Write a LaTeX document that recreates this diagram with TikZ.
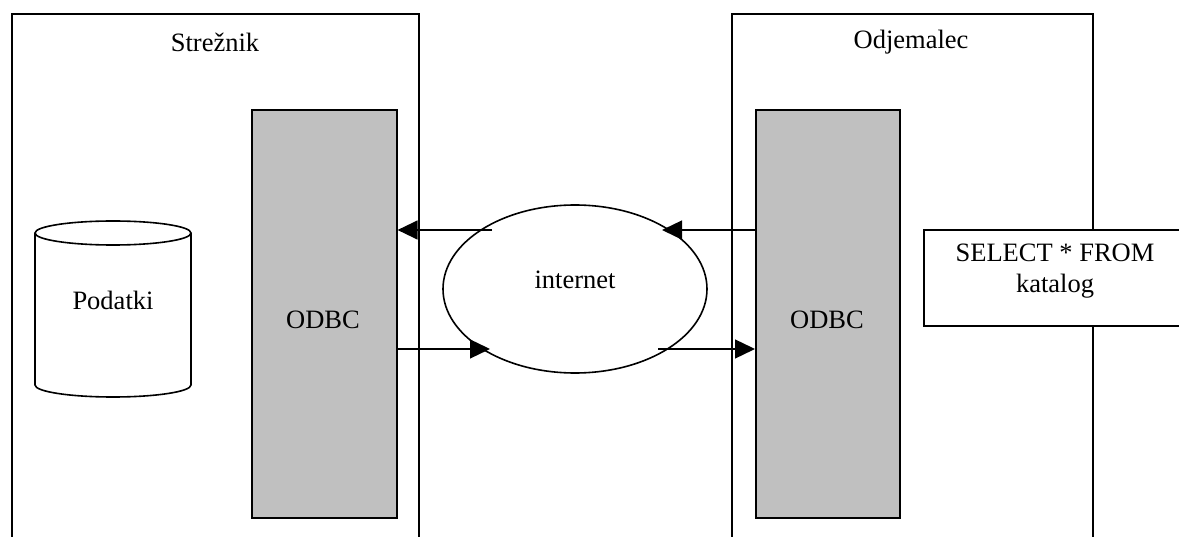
\documentclass[tikz,border=0pt]{standalone}
\usepackage{fontspec}
\setmainfont{Liberation Serif}
\usetikzlibrary{shapes.geometric,arrows.meta}
\definecolor{odbcgray}{HTML}{C0C0C0}
\begin{document}
\begin{tikzpicture}[x=1pt,y=-1pt,
  every node/.style={font=\fontsize{26.5}{31}\selectfont},
  frame/.style={draw, line width=1.6pt, rectangle, anchor=north west, inner sep=0pt},
  odbcbox/.style={frame, fill=odbcgray},
  txt/.style={inner sep=0pt, align=center},
  arr/.style={line width=1.3pt, -{Triangle[length=20pt,width=19pt]}}]
\useasboundingbox (0,0) rectangle (1179,537);
% server and client frames
\node[frame, minimum width=407pt, minimum height=600pt] (server) at (11,13) {};
\node[frame, minimum width=361pt, minimum height=600pt] (client) at (731,13) {};
\node[txt] (serverlbl) at (215,42) {Strežnik};
\node[txt] (clientlbl) at (911,42) {Odjemalec};
% ODBC boxes
\node[odbcbox, minimum width=145pt, minimum height=408pt] (odbcL) at (251,109) {};
\node[odbcbox, minimum width=144pt, minimum height=408pt] (odbcR) at (755,109) {};
\node[txt] (odbcLt) at (323,320) {ODBC};
\node[txt] (odbcRt) at (827,320) {ODBC};
% query box
\node[frame, fill=white, minimum width=265pt, minimum height=96pt] (query) at (923,229) {};
\node[txt] (querytxt) at (1055,271) {SELECT * FROM\\katalog};
% internet
\node[draw, ellipse, line width=1.6pt, minimum width=264pt, minimum height=168pt, inner sep=0pt] (net) at (575,289) {};
\node[txt] (nettxt) at (575,280) {internet};
% database cylinder
\draw[line width=1.6pt] (113,233) ellipse [x radius=78, y radius=12];
\draw[line width=1.6pt] (35,233) -- (35,385) arc[start angle=180, end angle=0, x radius=78, y radius=12] -- (191,233);
\node[txt] (podatki) at (113,300) {Podatki};
% connectors
\coordinate (a1) at (492,230);
\coordinate (a2) at (662,230);
\coordinate (b1) at (490,349);
\coordinate (b2) at (658,349);
\draw[arr] (a1) -- (a1 -| odbcL.east);
\draw[arr] (a2 -| odbcR.west) -- (a2);
\draw[arr] (b1 -| odbcL.east) -- (b1);
\draw[arr] (b2) -- (b2 -| odbcR.west);
\end{tikzpicture}
\end{document}
